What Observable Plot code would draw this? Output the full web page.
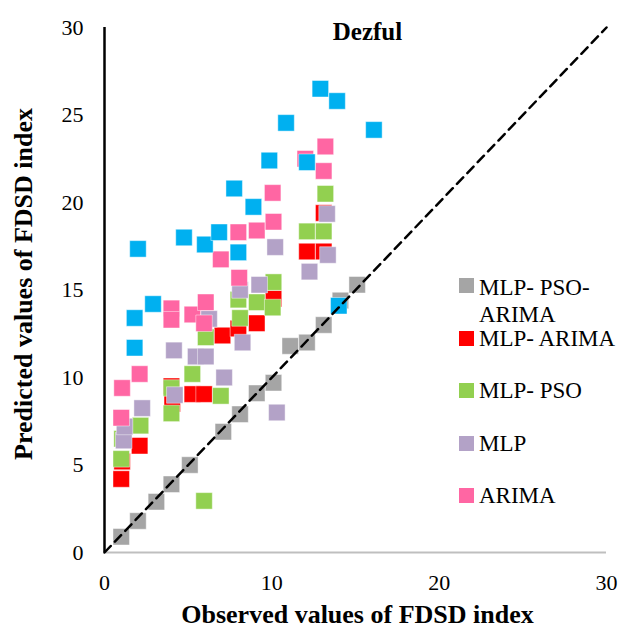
<!DOCTYPE html>
<html>
<head>
<meta charset="utf-8">
<script src="https://cdn.jsdelivr.net/npm/d3@7"></script>
<script src="https://cdn.jsdelivr.net/npm/@observablehq/plot@0.6"></script>
<style>
  html, body { margin: 0; padding: 0; background: #fff; }
  #wrap { position: relative; width: 624px; height: 628px; font-family: "Liberation Serif", "Times New Roman", serif; }
  #wrap svg { font-family: "Liberation Serif", "Times New Roman", serif; }
  .leg { position: absolute; font-size: 23px; line-height: 27px; color: #000; white-space: nowrap; }
  .sw { position: absolute; width: 15px; height: 15px; }
</style>
</head>
<body>
<div id="wrap"></div>
<script>
// ---- data ----
const title = "Dezful";
const xLabel = "Observed values of FDSD index";
const yLabel = "Predicted values of FDSD index";
const xTicks = [0, 10, 20, 30];
const yTicks = [0, 5, 10, 15, 20, 25, 30];
const diagX = [0, 30];
const diagY = [0, 30];

const seriesNames = ["MLP- PSO-\nARIMA", "MLP- ARIMA", "MLP- PSO", "MLP", "ARIMA"];
const seriesColors = ["#A5A5A5", "#FF0000", "#92D050", "#B3A2C7", "#FF66A3"];

const mlpPsoArima = [[1.0,0.9],[2.0,1.8],[3.1,2.9],[4.0,3.9],[5.1,5.0],[7.1,6.9],[8.1,7.9],[9.1,9.1],[10.1,9.7],[11.1,11.8],[12.1,12.0],[13.1,13.0],[14.1,14.4],[15.1,15.3]];
const mlpArima = [[1.0,4.2],[1.05,5.2],[2.1,6.1],[4.05,8.5],[4.0,9.5],[5.25,9.05],[5.95,9.05],[7.05,12.4],[8.0,12.8],[9.1,13.1],[10.1,14.5],[12.1,17.2],[13.1,17.2],[13.1,19.4]];
const mlpPso = [[1.0,5.35],[1.05,6.5],[2.15,7.25],[4.0,7.95],[4.0,9.4],[5.25,10.2],[5.95,2.95],[6.05,12.3],[6.95,8.95],[8.0,14.45],[8.1,13.4],[9.1,14.3],[10.05,14.0],[10.1,15.45],[12.1,18.35],[13.1,18.35],[13.2,20.5]];
const mlp = [[1.15,6.4],[1.2,7.2],[2.25,8.25],[4.2,9.0],[4.15,11.55],[5.45,11.2],[6.05,11.2],[6.25,13.35],[7.15,10.0],[8.25,12.0],[8.1,15.0],[9.25,15.3],[10.2,17.45],[10.3,8.0],[12.25,16.05],[13.35,17.0],[13.3,19.35]];
const arima = [[1.0,7.7],[1.05,9.4],[2.1,10.2],[4.0,13.95],[4.0,13.3],[5.25,13.6],[5.95,13.1],[6.05,14.3],[6.95,16.75],[8.05,15.7],[8.0,18.3],[9.1,18.4],[10.1,18.9],[10.05,20.55],[12.0,22.5],[13.1,21.8],[13.2,23.2]];
// extra series drawn in the chart but without a legend entry
const extraColor = "#00B0F0";
const extra = [[1.8,11.7],[1.8,13.4],[2.0,17.35],[2.9,14.2],[4.75,18.0],[6.0,17.6],[6.85,18.3],[7.75,20.8],[8.0,17.15],[8.9,19.75],[9.85,22.4],[10.85,24.55],[12.1,22.3],[12.9,26.5],[13.9,25.8],[16.1,24.15],[14.0,14.1]];

const seriesData = [mlpPsoArima, mlpArima, mlpPso, mlp, arima, extra];
const drawColors = [...seriesColors, extraColor];

const toRows = arr => arr.map(([x, y]) => ({x, y}));
const diag = diagX.map((x, i) => ({x, y: diagY[i]}));

const dotMarks = seriesData.map((s, i) =>
  Plot.dot(toRows(s), {
    x: "x", y: "y", symbol: "square", r: 9.3,
    fill: drawColors[i], stroke: "#ffffff", strokeOpacity: 0.55, strokeWidth: 0.8
  })
);

const chart = Plot.plot({
  width: 624,
  height: 628,
  marginLeft: 104,
  marginRight: 18,
  marginTop: 27,
  marginBottom: 76,
  style: { fontFamily: '"Liberation Serif", "Times New Roman", serif', background: "#fff" },
  x: { domain: [0, 30] },
  y: { domain: [0, 30] },
  marks: [
    Plot.axisX({ ticks: xTicks, tickSize: 0, tickPadding: 22, fontSize: 22, label: null }),
    Plot.axisY({ ticks: yTicks, tickSize: 0, tickPadding: 21, fontSize: 22, label: null }),
    Plot.ruleY([0], { stroke: "#BFBFBF", strokeWidth: 2 }),
    ...dotMarks,
    Plot.line(diag, { x: "x", y: "y", stroke: "#000", strokeWidth: 2.5, strokeDasharray: "9,6" }),
    Plot.ruleX([0], { stroke: "#000", strokeWidth: 2.5 }),
    Plot.text([title], { frameAnchor: "top", dx: 12, dy: 4, lineAnchor: "middle", fontSize: 25, fontWeight: "bold" }),
    Plot.text([xLabel], { frameAnchor: "bottom", dx: 2, dy: 70, lineAnchor: "bottom", fontSize: 26, fontWeight: "bold" }),
    Plot.text([yLabel], { frameAnchor: "left", textAnchor: "middle", dx: -81, dy: -6, rotate: -90, lineAnchor: "middle", fontSize: 26, fontWeight: "bold" })
  ]
});

const wrap = document.getElementById("wrap");
wrap.appendChild(chart);

// legend (HTML overlay)
const legTops = [274, 325, 377, 430, 482];
const swTops = [278, 331, 383, 436, 488];
seriesNames.forEach((name, i) => {
  const sw = document.createElement("div");
  sw.className = "sw";
  sw.style.left = "459px";
  sw.style.top = swTops[i] + "px";
  sw.style.background = seriesColors[i];
  wrap.appendChild(sw);
  const t = document.createElement("div");
  t.className = "leg";
  t.style.left = "479px";
  t.style.top = legTops[i] + "px";
  t.innerHTML = name.split("\n").join("<br>");
  wrap.appendChild(t);
});
</script>
</body>
</html>
